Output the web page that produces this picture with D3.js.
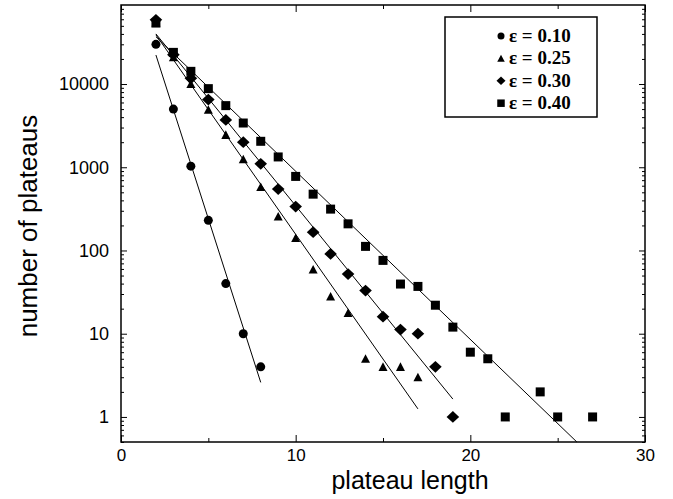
<!DOCTYPE html>
<html>
<head>
<meta charset="utf-8">
<script src="https://cdn.jsdelivr.net/npm/d3@7"></script>
<style>
  html, body { margin: 0; padding: 0; background: #fff; }
  svg { display: block; }
</style>
</head>
<body>
<svg id="chart" width="673" height="499"></svg>
<script>
// ---------------- data ----------------
const seriesLabels = ["\u03b5 = 0.10", "\u03b5 = 0.25", "\u03b5 = 0.30", "\u03b5 = 0.40"];
const seriesShapes = ["circle", "triangle", "diamond", "square"];

const xEps010 = [2, 3, 4, 5, 6, 7, 8];
const yEps010 = [30000, 5000, 1030, 230, 40, 10, 4];

const xEps025 = [2, 3, 4, 5, 6, 7, 8, 9, 10, 11, 12, 13, 14, 15, 16, 17];
const yEps025 = [55000, 21000, 10000, 4900, 2450, 1250, 580, 256, 141, 59, 28, 17.7, 5, 4, 4, 3];

const xEps030 = [2, 3, 4, 5, 6, 7, 8, 9, 10, 11, 12, 13, 14, 15, 16, 17, 18, 19];
const yEps030 = [59000, 22500, 11700, 6500, 3700, 2000, 1100, 546, 337, 166, 91, 52, 33, 16, 11.2, 10, 4, 1];

const xEps040 = [2, 3, 4, 5, 6, 7, 8, 9, 10, 11, 12, 13, 14, 15, 16, 17, 18, 19, 20, 21, 22, 24, 25, 27];
const yEps040 = [54000, 24000, 14200, 8800, 5500, 3400, 2050, 1330, 776, 475, 314, 209, 112, 76, 39.5, 37, 22, 12, 6, 5, 1, 2, 1, 1];

// fitted straight lines (in log space): start/end x and value
const fitX = [[2, 8], [2, 17], [2, 19], [2, 26.1]];
const fitY = [[22300, 2.6], [39000, 1.25], [40000, 1.64], [37000, 0.5]];

const xTickMajor = [0, 10, 20, 30];
const xTickMinor = [5, 15, 25];
const yTickMajor = [1, 10, 100, 1000, 10000];
const yTickLabels = ["1", "10", "100", "1000", "10000"];

const xTitle = "plateau length";
const yTitle = "number of plateaus";

// ---------------- layout ----------------
const svg = d3.select("#chart");
const L = 121, R = 645, T = 5, B = 442;

const x = d3.scaleLinear().domain([0, 30]).range([L, R]);
const y = d3.scaleLog().domain([0.5, 89000]).range([B, T]);

const yMinor = [];
for (let k = -1; k <= 4; k++) {
  for (let m = 2; m <= 9; m++) {
    const v = m * Math.pow(10, k);
    if (v >= 0.5 && v <= 89000) yMinor.push(v);
  }
}

const tickFont = "Liberation Sans, Arial, Helvetica, sans-serif";

function styleAxis(size) {
  return g => {
    g.select(".domain").remove();
    g.selectAll(".tick line").attr("stroke", "#000").attr("stroke-width", 1);
    g.selectAll(".tick text").attr("fill", "#000").attr("font-family", tickFont).attr("font-size", size);
  };
}

// bottom axis
svg.append("g").attr("transform", `translate(0,${B})`)
  .call(d3.axisBottom(x).tickValues(xTickMajor).tickSizeInner(-7).tickSizeOuter(0).tickPadding(7).tickFormat(d3.format("d")))
  .call(styleAxis(17));
svg.append("g").attr("transform", `translate(0,${B})`)
  .call(d3.axisBottom(x).tickValues(xTickMinor).tickSizeInner(-4).tickSizeOuter(0).tickFormat(""))
  .call(styleAxis(17));
// top axis
svg.append("g").attr("transform", `translate(0,${T})`)
  .call(d3.axisTop(x).tickValues(xTickMajor).tickSizeInner(-7).tickSizeOuter(0).tickFormat(""))
  .call(styleAxis(17));
svg.append("g").attr("transform", `translate(0,${T})`)
  .call(d3.axisTop(x).tickValues(xTickMinor).tickSizeInner(-4).tickSizeOuter(0).tickFormat(""))
  .call(styleAxis(17));
// left axis
svg.append("g").attr("transform", `translate(${L},0)`)
  .call(d3.axisLeft(y).tickValues(yTickMajor).tickSizeInner(-6).tickSizeOuter(0).tickPadding(12)
    .tickFormat((d, i) => yTickLabels[i]))
  .call(styleAxis(18));
svg.append("g").attr("transform", `translate(${L},0)`)
  .call(d3.axisLeft(y).tickValues(yMinor).tickSizeInner(-3).tickSizeOuter(0).tickFormat(""))
  .call(styleAxis(18));
// right axis
svg.append("g").attr("transform", `translate(${R},0)`)
  .call(d3.axisRight(y).tickValues(yTickMajor).tickSizeInner(-6).tickSizeOuter(0).tickFormat(""))
  .call(styleAxis(18));
svg.append("g").attr("transform", `translate(${R},0)`)
  .call(d3.axisRight(y).tickValues(yMinor).tickSizeInner(-3).tickSizeOuter(0).tickFormat(""))
  .call(styleAxis(18));

// frame
svg.append("rect").attr("x", L).attr("y", T).attr("width", R - L).attr("height", B - T)
  .attr("fill", "none").attr("stroke", "#000").attr("stroke-width", 1.5);

// axis titles
svg.append("text").attr("x", 410).attr("y", 489)
  .attr("text-anchor", "middle").attr("font-family", tickFont).attr("font-size", 25)
  .attr("fill", "#000").text(xTitle);
svg.append("text").attr("transform", `translate(37,226) rotate(-90)`)
  .attr("text-anchor", "middle").attr("font-family", tickFont).attr("font-size", 26)
  .attr("fill", "#000").text(yTitle);

// ---------------- marker shapes ----------------
function shapePath(shape, s) {
  const h = s / 2;
  switch (shape) {
    case "circle":
      return `M${h},0A${h},${h} 0 1,1 ${-h},0A${h},${h} 0 1,1 ${h},0Z`;
    case "triangle":
      return `M0,${-h * 1.0}L${h},${h * 0.9}L${-h},${h * 0.9}Z`;
    case "diamond":
      return `M0,${-h * 0.93}L${h},0L0,${h * 0.93}L${-h},0Z`;
    case "square":
      return `M${-h},${-h}H${h}V${h}H${-h}Z`;
  }
}
const markerSize = { circle: 9, triangle: 9, diamond: 12.6, square: 9 };
const legendSize = { circle: 7, triangle: 7.5, diamond: 9, square: 7.5 };

// ---------------- fit lines ----------------
const line = d3.line().x(d => x(d[0])).y(d => y(d[1]));
const plot = svg.append("g");
fitX.forEach((xs, i) => {
  plot.append("path")
    .attr("d", line([[xs[0], fitY[i][0]], [xs[1], fitY[i][1]]]))
    .attr("fill", "none").attr("stroke", "#000").attr("stroke-width", 1);
});

// ---------------- markers ----------------
const allX = [xEps010, xEps025, xEps030, xEps040];
const allY = [yEps010, yEps025, yEps030, yEps040];
allX.forEach((xs, i) => {
  const shape = seriesShapes[i];
  const pts = xs.map((xv, j) => [xv, allY[i][j]]);
  plot.append("g").selectAll("path").data(pts).join("path")
    .attr("transform", d => `translate(${x(d[0])},${y(d[1])})`)
    .attr("d", shapePath(shape, markerSize[shape]))
    .attr("fill", "#000");
});

// ---------------- legend ----------------
const lg = svg.append("g");
lg.append("rect").attr("x", 445).attr("y", 17).attr("width", 152).attr("height", 100)
  .attr("fill", "#fff").attr("stroke", "#000").attr("stroke-width", 1.5);
seriesLabels.forEach((lab, i) => {
  const cy = 36 + i * 22.4;
  const shape = seriesShapes[i];
  lg.append("path").attr("transform", `translate(501,${cy})`)
    .attr("d", shapePath(shape, legendSize[shape])).attr("fill", "#000");
  lg.append("text").attr("x", 509).attr("y", cy + 6)
    .attr("font-family", "Liberation Serif, Times New Roman, serif")
    .attr("font-size", 19).attr("font-weight", "bold").attr("fill", "#000").text(lab);
});
</script>
</body>
</html>
